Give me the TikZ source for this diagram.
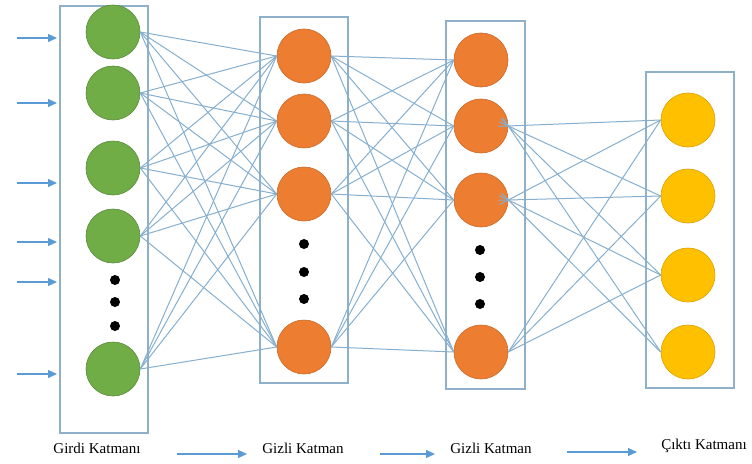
\documentclass[tikz,border=0pt]{standalone}
\usepackage{fontspec}
\setmainfont{Liberation Serif}
\usetikzlibrary{arrows.meta, positioning}
\definecolor{inGreen}{HTML}{70AD47}
\definecolor{hidOrange}{HTML}{ED7D31}
\definecolor{outYellow}{HTML}{FFC000}
\definecolor{linkBlue}{HTML}{86AFCF}
\definecolor{boxBlue}{HTML}{8EB0C8}
\definecolor{arrBlue}{HTML}{5B9BD5}
\tikzset{
    neuron/.style={circle, minimum size=54pt, inner sep=0pt, line width=0.6pt},
    inneuron/.append style={neuron, fill=inGreen, draw=inGreen!80!black},
    hidneuron/.append style={neuron, fill=hidOrange, draw=hidOrange!85!black},
    outneuron/.append style={neuron, fill=outYellow, draw=outYellow!85!black},
    dotnode/.style={circle, fill=black, minimum size=10pt, inner sep=0pt},
    layerbox/.style={draw=boxBlue, line width=1.2pt, fill=none, inner sep=0pt},
    link/.style={draw=linkBlue, line width=1pt},
    feed/.style={draw=arrBlue, line width=1.2pt, -{Triangle[length=9pt,width=8pt]}},
    caption/.style={font=\fontsize{15}{17}\selectfont, inner sep=0pt},
}

\begin{document}
\begin{tikzpicture}[x=1pt, y=-1pt]
    \useasboundingbox (0,0) rectangle (752,463);

    % layer boxes
    \node[layerbox, minimum width=88pt, minimum height=427pt] (boxIn) at (104,219.5) {};
    \node[layerbox, minimum width=88pt, minimum height=366pt] (boxHa) at (304,200) {};
    \node[layerbox, minimum width=79pt, minimum height=368pt] (boxHb) at (485.5,205) {};
    \node[layerbox, minimum width=88pt, minimum height=316pt] (boxOut) at (690,230) {};

    % input layer
    \node[inneuron] (i1) at (113,32) {};
    \node[inneuron] (i2) at (113,93) {};
    \node[inneuron] (i3) at (113,168) {};
    \node[inneuron] (i4) at (113,236) {};
    \node[inneuron] (i5) at (113,369) {};
    \node[dotnode] (di1) at (115,280) {};
    \node[dotnode] (di2) at (115,302) {};
    \node[dotnode] (di3) at (115,326) {};

    % first hidden layer
    \node[hidneuron] (ha1) at (304,56) {};
    \node[hidneuron] (ha2) at (304,121) {};
    \node[hidneuron] (ha3) at (304,194) {};
    \node[hidneuron] (ha4) at (304,347) {};
    \node[dotnode] (da1) at (304,244) {};
    \node[dotnode] (da2) at (304,272) {};
    \node[dotnode] (da3) at (304,299) {};

    % second hidden layer
    \node[hidneuron] (hb1) at (481,60) {};
    \node[hidneuron] (hb2) at (481,126) {};
    \node[hidneuron] (hb3) at (481,200) {};
    \node[hidneuron] (hb4) at (481,352) {};
    \node[dotnode] (db1) at (480,250) {};
    \node[dotnode] (db2) at (480,277) {};
    \node[dotnode] (db3) at (480,304) {};

    % output layer
    \node[outneuron] (o1) at (688,120) {};
    \node[outneuron] (o2) at (688,196) {};
    \node[outneuron] (o3) at (688,275) {};
    \node[outneuron] (o4) at (688,352) {};

    % connections
    \foreach \i in {1,...,5}
      \foreach \j in {1,...,4}
        \draw[link] (i\i.east) -- (ha\j.west);
    \foreach \i in {1,...,4}
      \foreach \j in {1,...,4}
        \draw[link] (ha\i.east) -- (hb\j.west);
    \foreach \i in {2,3}
      \foreach \j in {1,...,4}
        \draw[link, shorten <=-10pt] (hb\i.east) -- (o\j.west);
    \foreach \j in {1,2,3}
      \draw[link] (hb4.east) -- (o\j.west);

    % inputs
    \foreach \y [count=\k] in {38,103,183,242,282,374} {
      \coordinate (src\k) at (17,\y);
      \coordinate (dst\k) at (57,\y);
      \draw[feed] (src\k) -- (dst\k);
    }

    % captions
    \node[caption] (capIn) at (97,448) {Girdi Katmanı};
    \node[caption] (capHa) at (303,448) {Gizli Katman};
    \node[caption] (capHb) at (491,448) {Gizli Katman};
    \node[caption] (capOut) at (704,446) {Çıktı Katmanı};
    \coordinate (fa1) at (177,454);
    \coordinate (fa2) at (247,454);
    \coordinate (fb1) at (380,454);
    \coordinate (fb2) at (435,454);
    \coordinate (fc1) at (567,452);
    \coordinate (fc2) at (637,452);
    \draw[feed] (fa1) -- (fa2);
    \draw[feed] (fb1) -- (fb2);
    \draw[feed] (fc1) -- (fc2);
\end{tikzpicture}
\end{document}
